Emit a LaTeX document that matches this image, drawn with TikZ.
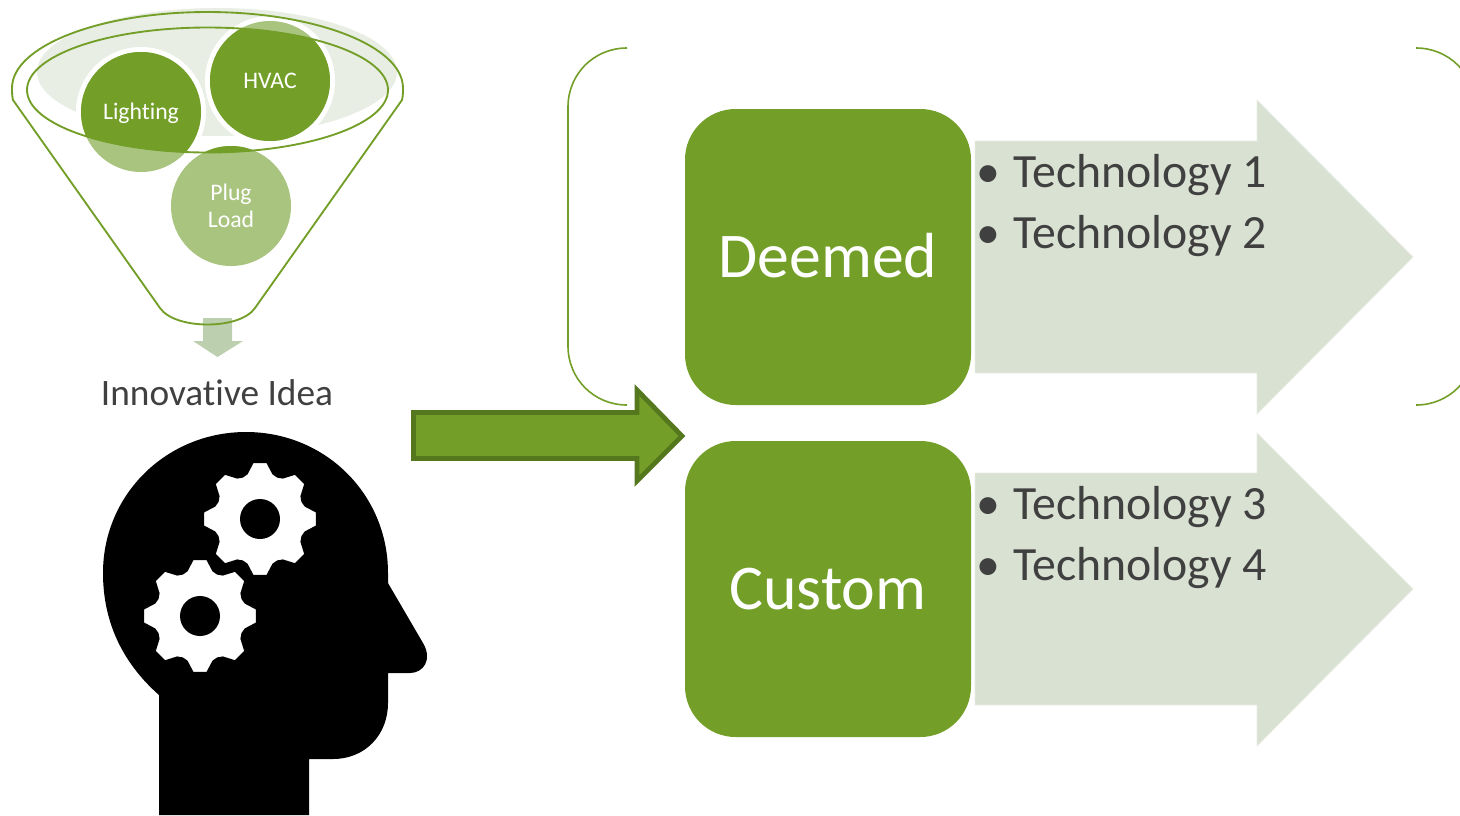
\documentclass[tikz,border=0pt]{standalone}
\usepackage{fontspec}
\usepackage{xcolor}
\setmainfont{Carlito}[Ligatures=NoCommon]
\usetikzlibrary{arrows.meta,positioning,shapes.geometric}
\definecolor{leaf}{HTML}{739F29}
\definecolor{leafdark}{HTML}{55781F}
\definecolor{leaflight}{HTML}{A9C47F}
\definecolor{haze}{HTML}{E9EEE5}
\definecolor{sage}{HTML}{D9E1D2}
\definecolor{drop}{HTML}{BCCFAE}
\definecolor{ink}{HTML}{404040}

\begin{document}
\begin{tikzpicture}[
  x=0.75pt, y=-0.75pt,
  funnelline/.style={draw=leaf, line width=1.4pt},
  bracketline/.style={draw=leaf, line width=1.2pt},
  ballcap/.style={text=white, font=\fontsize{17.8}{20}\selectfont, align=center},
  ideacap/.style={text=ink, font=\fontsize{28}{33}\selectfont},
  bigbox/.style={fill=leaf, rounded corners=38pt, minimum width=214.5pt, minimum height=222pt, text=white, font=\fontsize{47.8}{56}\selectfont},
  techcap/.style={text=ink, anchor=base west, inner sep=0pt, font=\fontsize{35.8}{42}\selectfont},
  sagearrow/.style={fill=sage, draw=sage!60!white, line width=0.6pt}
]
\useasboundingbox (0,0) rectangle (1460,815);
\clip (0,0) rectangle (1460,815);

% funnel
\fill[haze] (217,72) ellipse (180 and 64);
\fill[white] (141,112) circle (65);
\fill[white] (270,81) circle (65);
\fill[leaflight] (141,112) circle (60);
\fill[leaflight] (270,81) circle (60);
\fill[leaflight] (231,206) circle (60);
\begin{scope}
  \clip (207.5,90) ellipse (180.5 and 62.5);
  \fill[leaf] (141,112) circle (60);
  \fill[leaf] (270,81) circle (60);
  \fill[leaf] (231,206) circle (60);
\end{scope}
\fill[drop] (203,318) -- (232,318) -- (232,341) -- (243,341) -- (217.5,357) -- (193,341) -- (203,341) -- cycle;
\draw[funnelline] (207.5,90) ellipse (180.5 and 62.5);
\draw[funnelline, line join=round] (13,100) .. controls (12,96) and (12,92) .. (12,88)
  .. controls (12,46) and (100,12) .. (207.5,12)
  .. controls (315,12) and (403,46) .. (403,88)
  .. controls (403,92) and (403,96) .. (402,100)
  -- (255,308) .. controls (240,330) and (175,330) .. (160,308) -- cycle;
\node[ballcap] (lighting) at (141,113.5) {Lighting};
\node[ballcap] (hvac) at (270,81) {HVAC};
\node[ballcap] (plugload) at (231,206) {Plug\\Load};
\node[ideacap] (idea) at (217,393) {Innovative Idea};

% head
\fill[black] (159,815) -- (159,695) .. controls (125,665) and (103,625) .. (103,573)
  .. controls (103,494) and (167,432) .. (246,432)
  .. controls (325,432) and (388,494) .. (388,573)
  -- (388,583) -- (423,643) .. controls (433,660) and (423,673) .. (410,673)
  -- (388,673) -- (388,703) .. controls (388,735) and (365,759) .. (333,759)
  -- (309,759) -- (309,815) -- cycle;
\begin{scope}[shift={(260,519)}]
  \filldraw[fill=white, draw=black, line width=1pt] (-22.5:45.5) \foreach \a in {0,45,...,315} {
    -- (\a-16:47) -- (\a-7:57) -- (\a+7:57) -- (\a+16:47) -- (\a+22.5:45.5) } -- cycle;
  \fill[black] (0,0) circle (20);
\end{scope}
\begin{scope}[shift={(200,616)}]
  \filldraw[fill=white, draw=black, line width=1pt] (-22.5:45.5) \foreach \a in {0,45,...,315} {
    -- (\a-16:47) -- (\a-7:57) -- (\a+7:57) -- (\a+16:47) -- (\a+22.5:45.5) } -- cycle;
  \fill[black] (0,0) circle (20);
\end{scope}

% bracket
\draw[bracketline] (627,48) .. controls (594,48) and (568,74) .. (568,107) -- (568,346) .. controls (568,379) and (594,405) .. (627,405);
\draw[bracketline] (1416,48) .. controls (1449,48) and (1475,74) .. (1475,107);
\draw[bracketline] (1416,405) .. controls (1449,405) and (1475,379) .. (1475,346);

% arrows
\draw[sagearrow] (975,141) -- (1257,141) -- (1257,100) -- (1413,257) -- (1257,414) -- (1257,373) -- (975,373) -- cycle;
\draw[sagearrow] (975,473) -- (1257,473) -- (1257,433) -- (1413,589) -- (1257,746) -- (1257,705) -- (975,705) -- cycle;
\draw[fill=leaf, draw=leafdark, line width=3.6pt, miter limit=10] (413.5,412.5) -- (637,412.5) -- (637,390) -- (682,436) -- (637,481) -- (637,458.5) -- (413.5,458.5) -- cycle;

% boxes
\node[bigbox] (deemed) at (828,257) {\raisebox{1.9pt}{Deemed}};
\node[bigbox] (custom) at (828,589) {\raisebox{0.7pt}{Custom}};

\node[techcap] (tech1) at (976,187) {•\hspace{10pt}Technology 1};
\node[techcap] (tech2) at (976,248) {•\hspace{10pt}Technology 2};
\node[techcap] (tech3) at (976,519) {•\hspace{10pt}Technology 3};
\node[techcap] (tech4) at (976,580) {•\hspace{10pt}Technology 4};
\end{tikzpicture}
\end{document}
